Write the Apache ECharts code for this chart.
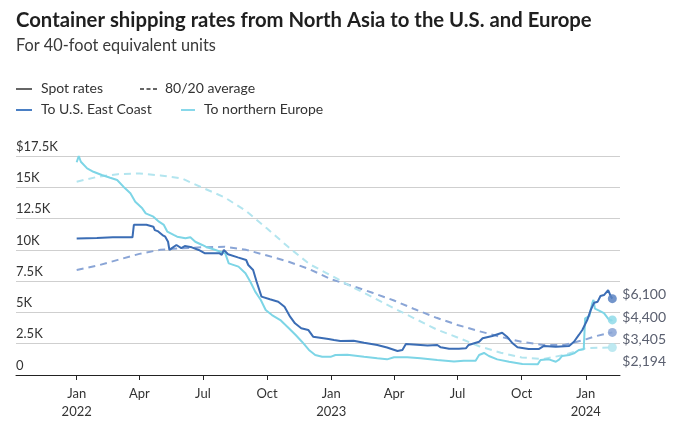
<!DOCTYPE html>
<html>
<head>
<meta charset="utf-8">
<script src="https://cdn.jsdelivr.net/npm/echarts@6/dist/echarts.min.js"></script>
<style>
html,body{margin:0;padding:0;background:#fff;}
#chart{width:675px;height:433px;}
</style>
</head>
<body>
<div id="chart"></div>
<script>
// ---------- DATA ----------
const usSpotDates = ['2022-01-01','2022-01-30','2022-02-22','2022-03-22','2022-03-24','2022-04-11','2022-04-21','2022-04-23','2022-04-27','2022-05-04','2022-05-08','2022-05-12','2022-05-14','2022-05-17','2022-05-24','2022-05-31','2022-06-05','2022-06-15','2022-06-25','2022-07-04','2022-07-25','2022-07-28','2022-07-31','2022-08-06','2022-08-20','2022-09-01','2022-09-04','2022-09-11','2022-09-16','2022-09-23','2022-10-05','2022-10-17','2022-10-26','2022-11-03','2022-11-10','2022-11-19','2022-11-29','2022-12-06','2022-12-28','2023-01-05','2023-01-14','2023-02-02','2023-02-17','2023-03-08','2023-03-22','2023-04-06','2023-04-08','2023-04-13','2023-04-18','2023-05-04','2023-05-19','2023-06-02','2023-06-07','2023-06-19','2023-07-03','2023-07-13','2023-07-17','2023-08-01','2023-08-06','2023-08-20','2023-09-03','2023-09-10','2023-09-18','2023-09-25','2023-10-11','2023-10-26','2023-11-02','2023-11-19','2023-12-08','2023-12-15','2023-12-22','2023-12-27','2024-01-03','2024-01-08','2024-01-13','2024-01-18','2024-01-22','2024-01-27','2024-02-02','2024-02-06','2024-02-08'];
const usSpotValues = [10900,10950,11000,11000,12000,12000,11850,11580,11500,11180,11050,10650,9990,10120,10390,10140,10300,10200,9990,9720,9720,9590,10000,9650,9400,9190,8790,8390,7450,6260,6050,5860,5460,4660,4130,3730,3600,3060,2880,2800,2720,2740,2580,2400,2200,1920,1800,2000,2480,2420,2360,2400,2210,2100,2100,2130,2400,2660,2930,3120,3380,3060,2530,2210,2080,2080,2320,2260,2320,2660,3200,3600,4390,5190,5780,5860,6310,6390,6790,6260,6100];

const euSpotDates = ['2022-01-01','2022-01-04','2022-01-07','2022-01-16','2022-01-25','2022-02-06','2022-02-18','2022-02-28','2022-03-09','2022-03-19','2022-03-26','2022-04-05','2022-04-10','2022-04-21','2022-04-29','2022-05-06','2022-05-11','2022-05-20','2022-05-25','2022-06-06','2022-06-13','2022-06-20','2022-06-30','2022-07-05','2022-07-19','2022-08-02','2022-08-07','2022-08-21','2022-08-31','2022-09-07','2022-09-14','2022-09-22','2022-09-29','2022-10-08','2022-10-20','2022-10-30','2022-11-11','2022-11-20','2022-11-30','2022-12-09','2022-12-19','2022-12-31','2023-01-07','2023-01-24','2023-02-17','2023-03-08','2023-03-22','2023-04-01','2023-04-20','2023-05-09','2023-06-02','2023-06-26','2023-07-10','2023-07-27','2023-08-01','2023-08-08','2023-08-15','2023-08-27','2023-09-13','2023-10-02','2023-10-24','2023-10-28','2023-11-09','2023-11-19','2023-11-24','2023-11-28','2023-12-08','2023-12-15','2023-12-22','2023-12-29','2023-12-31','2024-01-06','2024-01-10','2024-01-12','2024-01-14','2024-01-20','2024-01-27','2024-02-02','2024-02-06','2024-02-08'];
const euSpotValues = [17000,17500,17040,16510,16240,15980,15760,15580,15050,14520,13850,13320,12920,12650,12250,11990,11450,11190,11050,10920,11000,10650,10390,10250,9990,9720,8920,8660,8130,7450,6660,5990,5190,4790,4390,3860,3200,2660,2000,1600,1460,1450,1600,1620,1450,1330,1250,1420,1410,1330,1200,1080,1140,1140,1600,1760,1520,1250,1060,880,850,1200,1250,1060,1250,1520,1600,1730,2000,2050,4530,4700,5700,6000,5300,5150,4950,4500,4350,4400];

const usAvgDates = ['2022-01-01','2022-02-01','2022-03-01','2022-04-01','2022-05-01','2022-06-01','2022-07-01','2022-08-01','2022-09-01','2022-10-01','2022-11-01','2022-12-01','2023-01-01','2023-02-01','2023-03-01','2023-04-01','2023-05-01','2023-06-01','2023-07-01','2023-08-01','2023-09-01','2023-10-01','2023-11-01','2023-12-01','2024-01-01','2024-01-15','2024-02-08'];
const usAvgValues = [8390,8760,9200,9680,10010,10130,10210,10250,10000,9550,9050,8450,7650,7100,6570,5950,5250,4570,4000,3500,3050,2650,2400,2400,2850,3100,3405];

const euAvgDates = ['2022-01-01','2022-02-01','2022-03-01','2022-04-01','2022-05-01','2022-06-01','2022-07-01','2022-08-01','2022-09-01','2022-10-01','2022-11-01','2022-12-01','2023-01-01','2023-02-01','2023-03-01','2023-04-01','2023-05-01','2023-06-01','2023-07-01','2023-08-01','2023-09-01','2023-10-01','2023-11-01','2023-12-01','2024-01-01','2024-02-08'];
const euAvgValues = [15450,15850,16050,16100,15950,15700,14950,14200,13100,11700,10200,8850,7950,7000,6230,5330,4500,3640,3000,2300,1780,1400,1280,1600,2150,2194];

const xTickDates = ['2022-01-01','2022-04-01','2022-07-01','2022-10-01','2023-01-01','2023-04-01','2023-07-01','2023-10-01','2024-01-01'];
const xTickLabels = ['Jan\n2022','Apr','Jul','Oct','Jan\n2023','Apr','Jul','Oct','Jan\n2024'];
const yTickValues = [0,2500,5000,7500,10000,12500,15000,17500];
const yTickLabels = ['0','2.5K','5K','7.5K','10K','12.5K','15K','$17.5K'];
const xRange = ['2021-10-06','2024-02-19'];

// ---------- HELPERS ----------
function ts(s){ const p = s.split('-'); return Date.UTC(+p[0], +p[1]-1, +p[2]); }
function pairs(d, v){ return d.map((x,i)=>[ts(x), v[i]]); }
function money(v){ return '$' + v.toLocaleString('en-US'); }
const FONT = 'Lato, "Noto Sans", sans-serif';

const C_US = '#3b6db5', C_EU = '#7dd5e6', C_US_AVG = '#8aa5d6', C_EU_AVG = '#b3e5ef';

const chart = echarts.init(document.getElementById('chart'), null, {renderer:'canvas'});
const tickTs = xTickDates.map(ts);

function lastPoint(d, v){ return [ts(d[d.length-1]), v[v.length-1]]; }

function lineSeries(name, d, v, color, dashed, labelDy){
  return {
    name, type:'line', data: pairs(d, v), showSymbol:false, symbol:'none',
    lineStyle:{color, width:2, type: dashed ? [7,5] : 'solid'},
    z: dashed ? 2 : 3,
    silent:true, animation:false,
    endLabel:{show:true, formatter: p => money(p.value[1]), color:'#5b6070',
      fontFamily:FONT, fontSize:14, distance:10, offset:[0,labelDy]}
  };
}
function dotSeries(d, v, color){
  return {type:'scatter', data:[lastPoint(d,v)], symbolSize:9,
    itemStyle:{color, opacity:0.85}, z:4, silent:true, animation:false};
}

const option = {
  animation:false,
  textStyle:{fontFamily:FONT},
  grid:{left:16, right:55, top:156, bottom:58, containLabel:false},
  xAxis:{
    type:'value', min: ts(xRange[0]), max: ts(xRange[1]),
    axisLine:{show:true, lineStyle:{color:'#222', width:1}},
    axisTick:{show:true, customValues: tickTs, length:5, lineStyle:{color:'#222'}},
    axisLabel:{customValues: tickTs, color:'#333', fontSize:13, fontFamily:FONT, lineHeight:18, margin:10,
      formatter: v => { const i = tickTs.indexOf(v); return i >= 0 ? xTickLabels[i] : ''; }},
    splitLine:{show:false}
  },
  yAxis:{
    type:'value', min:0, max:17500, interval:2500,
    axisLine:{show:false}, axisTick:{show:false},
    axisLabel:{inside:true, align:'left', verticalAlign:'bottom', margin:0, padding:[0,0,3,0],
      color:'#333', fontSize:13, fontFamily:FONT,
      formatter: v => { const i = yTickValues.indexOf(v); return i >= 0 ? yTickLabels[i] : ''; }},
    splitLine:{show:true, lineStyle:{color:'#cfcfcf', width:1}}
  },
  series:[
    lineSeries('US avg', usAvgDates, usAvgValues, C_US_AVG, true, 7),
    lineSeries('EU avg', euAvgDates, euAvgValues, C_EU_AVG, true, 14),
    lineSeries('EU spot', euSpotDates, euSpotValues, C_EU, false, -2),
    lineSeries('US spot', usSpotDates, usSpotValues, C_US, false, -4),
    dotSeries(usAvgDates, usAvgValues, C_US_AVG),
    dotSeries(euAvgDates, euAvgValues, C_EU_AVG),
    dotSeries(euSpotDates, euSpotValues, '#8fdbe9'),
    dotSeries(usSpotDates, usSpotValues, '#5a82c2')
  ],
  graphic:[
    {type:'text', left:16, top:10, style:{text:'Container shipping rates from North Asia to the U.S. and Europe', font:'bold 20.3px '+FONT, fill:'#1f1f1f'}},
    {type:'text', left:16, top:38, style:{text:'For 40-foot equivalent units', font:'16.3px '+FONT, fill:'#3a3a3a'}},
    {type:'line', shape:{x1:16,y1:89,x2:32,y2:89}, style:{stroke:'#666', lineWidth:2}},
    {type:'text', left:41, top:81, style:{text:'Spot rates', font:'14px '+FONT, fill:'#333'}},
    {type:'line', shape:{x1:140,y1:89,x2:157,y2:89}, style:{stroke:'#666', lineWidth:2, lineDash:[4,2.5]}},
    {type:'text', left:165, top:81, style:{text:'80/20 average', font:'14px '+FONT, fill:'#333'}},
    {type:'line', shape:{x1:16,y1:110,x2:32,y2:110}, style:{stroke:'#4a7fc4', lineWidth:2}},
    {type:'text', left:41, top:102, style:{text:'To U.S. East Coast', font:'14px '+FONT, fill:'#333'}},
    {type:'line', shape:{x1:181,y1:110,x2:195,y2:110}, style:{stroke:'#88d8ea', lineWidth:2}},
    {type:'text', left:204, top:102, style:{text:'To northern Europe', font:'14px '+FONT, fill:'#333'}}
  ]
};
chart.setOption(option);
</script>
</body>
</html>
